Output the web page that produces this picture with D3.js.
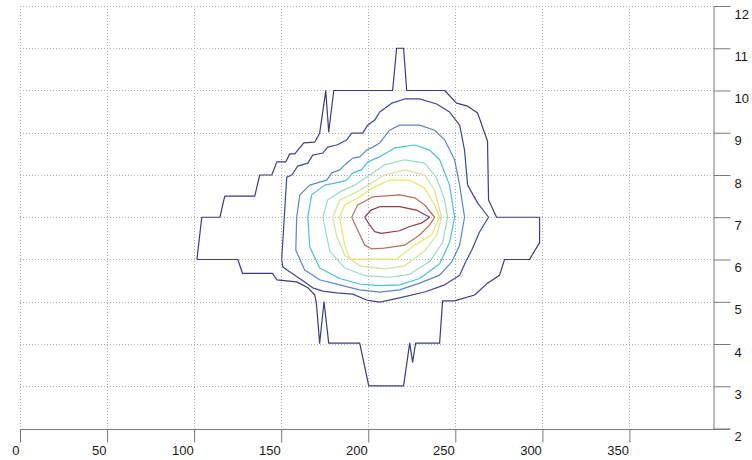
<!DOCTYPE html>
<html><head><meta charset="utf-8">
<script src="https://cdn.jsdelivr.net/npm/d3@7"></script>
<style>body{margin:0;background:#fff}svg{display:block}text{font-family:"Liberation Sans",Arial,sans-serif}</style>
</head><body><svg id="c" width="752" height="460"></svg>
<script>
const xTicks = [0,50,100,150,200,250,300,350];
const yTicks = [2,3,4,5,6,7,8,9,10,11,12];
const xDomain = [0,398];
const yDomain = [2,12];

const level1 = [[101.6,6.0],[104.4,7.0],[114.8,7.0],[117.6,7.5],[134.8,7.5],[137.7,8.0],[144.6,8.0],[147.5,8.31],[152.6,8.31],[154.9,8.5],[157.8,8.5],[163.0,8.76],[169.3,8.78],[172.1,8.99],[175.6,9.99],[177.3,9.02],[180.2,10.0],[214.0,10.0],[216.3,11.0],[220.3,11.0],[222.1,10.0],[243.9,10.0],[250.7,9.70],[257.1,9.63],[262.8,9.47],[268.5,8.8],[269.1,7.41],[273.7,7.0],[298.4,7.0],[298.4,6.4],[292.6,6.0],[278.3,6.0],[275.4,5.63],[268.5,5.44],[261.1,5.16],[249.6,5.02],[242.7,5.02],[241.0,4.02],[227.2,4.02],[225.5,3.57],[223.8,4.02],[220.3,3.01],[200.3,3.01],[195.1,4.02],[177.3,4.02],[174.6,5.0],[172.1,4.02],[170.2,4.97],[169.3,5.16],[165.4,5.33],[158.9,5.47],[147.5,5.52],[145.0,5.67],[127.8,5.67],[125.1,6.0],[101.6,6.0]];
const level2 = [[150.3,6.01],[153.2,7.95],[156.1,8.0],[159.5,8.21],[165.3,8.28],[168.1,8.47],[173.9,8.52],[176.7,8.66],[181.9,8.71],[187.6,8.83],[190.5,8.99],[196.8,8.99],[199.7,9.18],[203.7,9.30],[206.6,9.49],[213.5,9.70],[220.9,9.80],[229.5,9.80],[239.3,9.68],[246.7,9.49],[252.5,9.18],[255.3,8.59],[257.1,7.76],[262.8,7.34],[269.1,7.0],[263.9,6.65],[259.4,6.22],[255.9,5.94],[252.5,5.63],[243.9,5.40],[232.4,5.23],[218.0,5.09],[206.6,4.99],[199.1,5.04],[191.1,5.18],[181.9,5.21],[173.9,5.25],[168.1,5.33],[163.5,5.47],[157.8,5.63],[150.9,5.82],[150.3,6.01]];
const level3 = [[158.4,6.22],[158.9,7.0],[160.7,7.53],[166.4,7.76],[172.1,7.83],[176.2,7.88],[179.0,8.05],[183.6,8.12],[187.6,8.28],[191.1,8.40],[195.1,8.43],[199.1,8.59],[202.6,8.66],[206.6,8.76],[212.3,9.06],[218.0,9.18],[229.5,9.18],[238.1,9.06],[243.9,8.83],[249.6,8.36],[252.5,7.76],[255.3,7.0],[252.5,6.34],[247.9,5.94],[241.0,5.63],[229.5,5.44],[218.0,5.28],[206.6,5.23],[195.1,5.28],[183.6,5.40],[172.1,5.52],[163.5,5.75],[158.4,6.22]];
const level4 = [[165.3,7.0],[167.5,7.53],[175.0,7.76],[183.6,7.83],[187.6,7.88],[191.1,8.05],[196.2,8.12],[199.7,8.31],[206.6,8.43],[215.2,8.64],[226.7,8.71],[235.3,8.59],[241.0,8.36],[246.7,7.76],[249.6,7.0],[246.7,6.40],[241.0,5.90],[229.5,5.55],[218.0,5.40],[206.6,5.38],[195.1,5.42],[183.6,5.55],[172.1,5.80],[166.4,6.30],[165.3,7.0]];
const level5 = [[173.9,7.0],[176.7,7.41],[183.6,7.60],[192.2,7.76],[200.8,8.0],[209.4,8.24],[220.9,8.36],[232.4,8.28],[239.3,7.93],[243.9,7.41],[245.6,7.0],[242.7,6.40],[235.3,5.95],[223.8,5.65],[212.3,5.58],[198.0,5.62],[186.5,5.80],[177.9,6.20],[173.9,7.0]];
const level6 = [[179.6,7.0],[183.6,7.41],[192.2,7.57],[199.7,7.76],[209.4,8.0],[220.9,8.12],[232.4,8.0],[238.1,7.64],[242.1,7.0],[239.3,6.58],[232.4,6.20],[220.9,5.85],[209.4,5.78],[195.1,5.85],[186.5,6.10],[181.9,6.55],[179.6,7.0]];
const level7 = [[183.6,7.0],[186.5,7.29],[195.1,7.48],[203.7,7.72],[212.3,7.88],[223.8,7.88],[232.4,7.69],[238.1,7.29],[241.0,7.0],[236.4,6.58],[226.7,6.34],[216.3,6.01],[189.4,6.01],[186.5,6.34],[184.8,6.70],[183.6,7.0]];
const level8 = [[190.5,7.0],[193.9,7.29],[202.6,7.48],[218.0,7.53],[226.7,7.46],[232.4,7.29],[238.1,7.0],[235.3,6.82],[229.5,6.58],[220.9,6.34],[209.4,6.27],[202.0,6.25],[198.0,6.34],[193.9,6.70],[190.5,7.0]];
const level9 = [[198.0,7.0],[201.5,7.17],[206.6,7.25],[218.0,7.25],[227.6,7.17],[235.3,7.0],[230.5,6.86],[223.8,6.78],[218.0,6.68],[207.5,6.62],[203.7,6.66],[200.8,6.82],[198.0,7.0]];

const contourLines = [level1,level2,level3,level4,level5,level6,level7,level8,level9];
const lineColors = ["#3c3c84","#40489c","#5a86cc","#44c4d4","#96dccc","#cce69c","#f0e460","#b8705a","#983848"];

const svg = d3.select("#c");
const x = d3.scaleLinear().domain(xDomain).range([20,713]);
const y = d3.scaleLinear().domain(yDomain).range([428.5,6]);

const grid = svg.append("g").attr("stroke","#b0b0b0").attr("stroke-dasharray","1,2").attr("stroke-width",1);
grid.selectAll(".vx").data(xTicks).join("line")
  .attr("x1",d=>Math.round(x(d))+0.5).attr("x2",d=>Math.round(x(d))+0.5)
  .attr("y1",y(12)).attr("y2",y(2));
grid.selectAll(".hy").data(yTicks.filter(d=>d>2)).join("line")
  .attr("y1",d=>Math.round(y(d))+0.5).attr("y2",d=>Math.round(y(d))+0.5)
  .attr("x1",x(0)).attr("x2",x(xDomain[1]));

const line = d3.line().x(d=>x(d[0])).y(d=>y(d[1]));
svg.append("g").selectAll("path").data(contourLines).join("path")
  .attr("d",line).attr("fill","none")
  .attr("stroke",(d,i)=>lineColors[i]).attr("stroke-width",1.2)
  .attr("stroke-linejoin","round");

const xa = svg.append("g").attr("transform",`translate(0,${Math.round(y(2))+0.5})`)
  .call(d3.axisBottom(x).tickValues(xTicks).tickSize(13).tickSizeOuter(0).tickFormat(d3.format("d")));
xa.select(".domain").attr("stroke","#7a7a7a");
xa.selectAll(".tick line").attr("stroke","#7a7a7a");
xa.selectAll(".tick text").attr("fill","#1a1a1a").attr("font-size",13)
  .attr("text-anchor","end").attr("dx","-1").attr("y",16).attr("dy","0.71em");

const ya = svg.append("g").attr("transform",`translate(${Math.round(x(xDomain[1]))+0.5},0)`)
  .call(d3.axisRight(y).tickValues(yTicks).tickSize(17).tickSizeOuter(0).tickFormat(d3.format("d")));
ya.select(".domain").attr("stroke","#7a7a7a");
ya.selectAll(".tick line").attr("stroke","#7a7a7a");
ya.selectAll(".tick text").attr("fill","#1a1a1a").attr("font-size",13)
  .attr("x",21).attr("dy","0.32em").attr("y",8);
svg.selectAll(".domain").attr("fill","none");
xa.select(".domain").attr("d",`M${x(0)},0H${x(xDomain[1])+17}`);
</script></body></html>
